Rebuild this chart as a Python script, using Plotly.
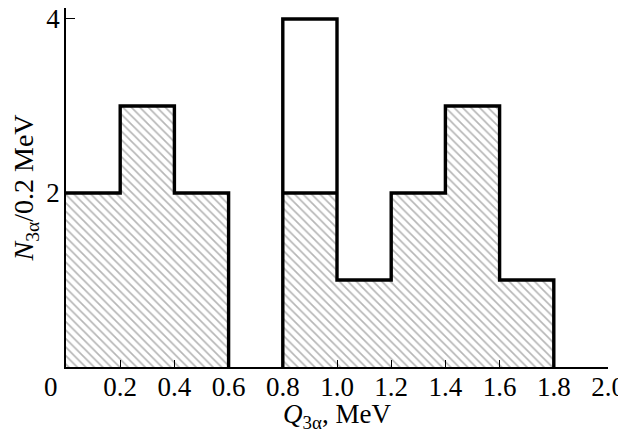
import plotly.graph_objects as go

# Data
bin_edges = [0.0, 0.2, 0.4, 0.6, 0.8, 1.0, 1.2, 1.4, 1.6, 1.8, 2.0]
total_counts = [2, 3, 2, 0, 4, 1, 2, 3, 1, 0]
hatched_counts = [2, 3, 2, 0, 2, 1, 2, 3, 1, 0]
x_tick_vals = [0.2, 0.4, 0.6, 0.8, 1.0, 1.2, 1.4, 1.6, 1.8, 2.0]
x_tick_text = ["0.2", "0.4", "0.6", "0.8", "1.0", "1.2", "1.4", "1.6", "1.8", "2.0"]
y_tick_vals = [2, 4]
y_tick_text = ["2", "4"]

FONT = "Liberation Serif, Times New Roman, Times, serif"
FS = 27
centers = [(bin_edges[i] + bin_edges[i + 1]) / 2 for i in range(len(total_counts))]
widths = [bin_edges[i + 1] - bin_edges[i] for i in range(len(total_counts))]

fig = go.Figure()

# hatched bars
fig.add_trace(go.Bar(
    x=centers, y=hatched_counts, width=widths,
    marker=dict(color="white", line=dict(width=0),
                pattern=dict(shape="\\", fgcolor="#6e6e6e", bgcolor="white",
                             size=6, solidity=0.28)),
    showlegend=False, hoverinfo="skip",
))

# step outline of total counts
ox, oy = [], []
for i, c in enumerate(total_counts):
    e0, e1 = bin_edges[i], bin_edges[i + 1]
    if c > 0:
        if not ox or ox[-1] is None:
            if i > 0:
                ox.append(e0); oy.append(0)
        ox += [e0, e1]; oy += [c, c]
        nxt = total_counts[i + 1] if i + 1 < len(total_counts) else 0
        if nxt == 0:
            ox += [e1, None]; oy += [0, None]
fig.add_trace(go.Scatter(x=ox, y=oy, mode="lines",
                         line=dict(color="black", width=3.4),
                         showlegend=False, hoverinfo="skip"))

# top of hatched part where it is lower than the total
hx, hy = [], []
for i, (t, h) in enumerate(zip(total_counts, hatched_counts)):
    if 0 < h < t:
        hx += [bin_edges[i], bin_edges[i + 1], None]
        hy += [h, h, None]
fig.add_trace(go.Scatter(x=hx, y=hy, mode="lines",
                         line=dict(color="black", width=3.4),
                         showlegend=False, hoverinfo="skip"))

fig.add_annotation(x=0, y=0, xref="x", yref="paper", text="0",
                   showarrow=False, xanchor="center", yanchor="top",
                   xshift=-15, yshift=-3,
                   font=dict(family=FONT, size=FS, color="black"))

# page body adds an 8px offset; the figure is sized to fill the rest of the window
fig.update_layout(
    width=618, height=425,
    margin=dict(l=58, r=18, t=0, b=66, autoexpand=False),
    plot_bgcolor="white", paper_bgcolor="white",
    bargap=0,
    font=dict(family=FONT, size=FS, color="black"),
    xaxis=dict(range=[0, 2.0], tickvals=x_tick_vals, ticktext=x_tick_text,
               ticks="inside", ticklen=7, tickwidth=1.3, tickcolor="black",
               showline=True, linecolor="black", linewidth=1.5,
               showgrid=False, zeroline=False, automargin=False,
               ticklabelstandoff=-5, ticklabeloverflow="allow",
               tickfont=dict(family=FONT, size=FS, color="black"),
               title=dict(text="<i>Q</i><sub>3α</sub>, MeV", standoff=2,
                          font=dict(family=FONT, size=FS, color="black"))),
    yaxis=dict(range=[0, 4.126], tickvals=y_tick_vals, ticktext=y_tick_text,
               ticks="inside", ticklen=9, tickwidth=1.3, tickcolor="black",
               showline=True, linecolor="black", linewidth=1.5,
               showgrid=False, zeroline=False, automargin=False,
               ticklabelstandoff=-1, ticklabeloverflow="allow",
               tickfont=dict(family=FONT, size=FS, color="black"),
               title=dict(text="<i>N</i><sub>3α</sub>/0.2 MeV", standoff=6,
                          font=dict(family=FONT, size=FS + 1, color="black"))),
)

fig.write_html("out.html")
